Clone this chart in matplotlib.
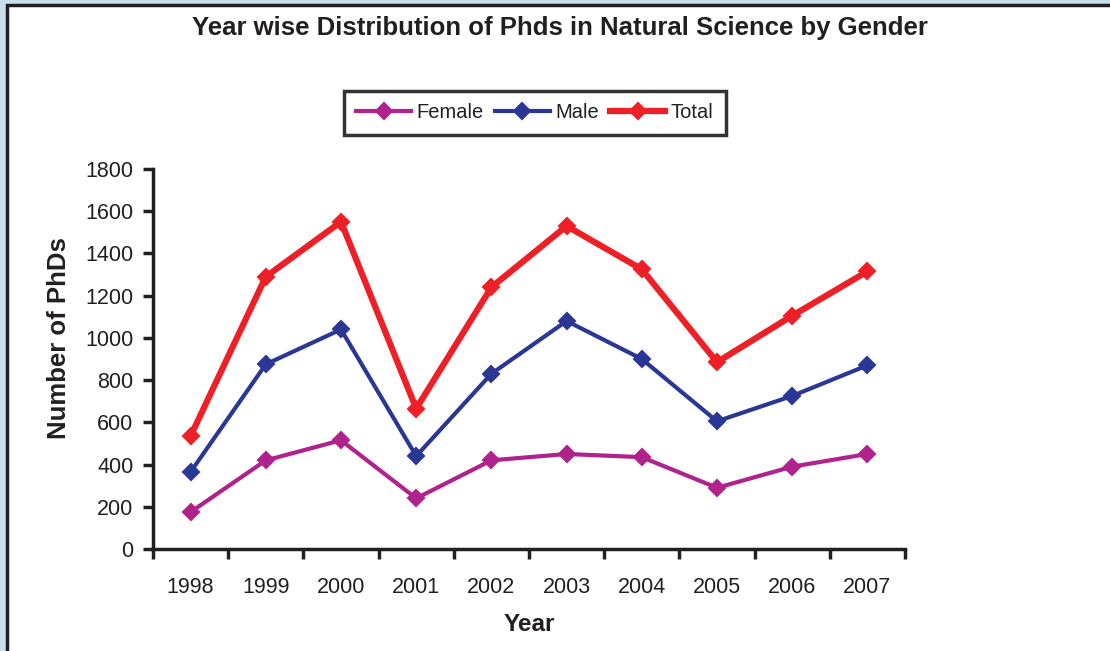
import matplotlib
matplotlib.use("Agg")
import matplotlib.pyplot as plt
from matplotlib.patches import Rectangle
import numpy as np

years = ["1998", "1999", "2000", "2001", "2002", "2003", "2004", "2005", "2006", "2007"]
female = [175, 420, 515, 240, 420, 450, 435, 290, 390, 450]
male = [365, 875, 1040, 440, 830, 1080, 900, 605, 725, 870]
total = [535, 1290, 1550, 665, 1240, 1530, 1325, 885, 1105, 1315]
yticks = [0, 200, 400, 600, 800, 1000, 1200, 1400, 1600, 1800]

plt.rcParams['font.family'] = ['Liberation Sans', 'DejaVu Sans']
TXT = '#231f20'

fig = plt.figure(figsize=(11.10, 6.51), dpi=100)
fig.patch.set_facecolor('#c6dfea')
# white panel with dark border
fig.patches.append(Rectangle((7 / 1110, -0.05), 1.2, 1 - 5 / 651 + 0.05,
                             transform=fig.transFigure, facecolor='white',
                             edgecolor=TXT, linewidth=2.5, zorder=-10))

ax = fig.add_axes([153 / 1110, 1 - 549 / 651, (905 - 153) / 1110, (549 - 169) / 651])
ax.set_zorder(5)
ax.set_facecolor('none')
x = np.arange(len(years))

ax.plot(x, female, color='#b0228c', lw=3.0, marker='D', ms=8.5, mec='#b0228c', mew=1.5,
        label='Female', zorder=3)
ax.plot(x, male, color='#2b3795', lw=3.0, marker='D', ms=8.5, mec='#2b3795', mew=1.5,
        label='Male', zorder=4)
ax.plot(x, total, color='#ee1f26', lw=4.5, marker='D', ms=8.5, mec='#ee1f26', mew=1.5,
        label='Total', zorder=5)

ax.set_xlim(-0.5, len(years) - 0.5)
ax.set_ylim(0, 1800)
ax.set_yticks(yticks)
ax.set_yticklabels([str(v) for v in yticks])
ax.set_xticks(x)
ax.set_xticklabels(years)
ax.set_xticks(np.arange(-0.5, len(years), 1.0), minor=True)

for s in ['top', 'right']:
    ax.spines[s].set_visible(False)
for s in ['left', 'bottom']:
    ax.spines[s].set_linewidth(2.5)
    ax.spines[s].set_color(TXT)

ax.tick_params(axis='y', direction='out', length=7, width=2.5, color=TXT,
               labelsize=15.5, labelcolor=TXT, pad=7)
ax.tick_params(axis='x', which='major', length=0, labelsize=15.5, labelcolor=TXT, pad=20)
ax.tick_params(axis='x', which='minor', direction='out', length=7, width=2.5, color=TXT)

ax.set_xlabel('Year', fontsize=17.5, fontweight='bold', color=TXT, labelpad=11)
ax.set_ylabel('Number of PhDs', fontsize=18.5, fontweight='bold', color=TXT)
ax.yaxis.set_label_coords((71 - 153) / 752, (549 - 338) / 380)

fig.text(560 / 1110, 1 - 28 / 651, 'Year wise Distribution of Phds in Natural Science by Gender',
         ha='center', va='center', fontsize=18.5, fontweight='bold', color=TXT)

leg = ax.legend(loc='center', bbox_to_anchor=(535 / 1110, 1 - 113 / 651),
                bbox_transform=fig.transFigure, ncol=3, frameon=True, fancybox=False,
                fontsize=14.5, handlelength=2.7, handletextpad=0.3, columnspacing=0.55,
                borderpad=0.6, markerscale=0.9)
leg.get_frame().set_edgecolor('black')
leg.get_frame().set_linewidth(2.5)
for t in leg.get_texts():
    t.set_color(TXT)

fig.savefig('out.png', dpi=100, facecolor=fig.get_facecolor())
